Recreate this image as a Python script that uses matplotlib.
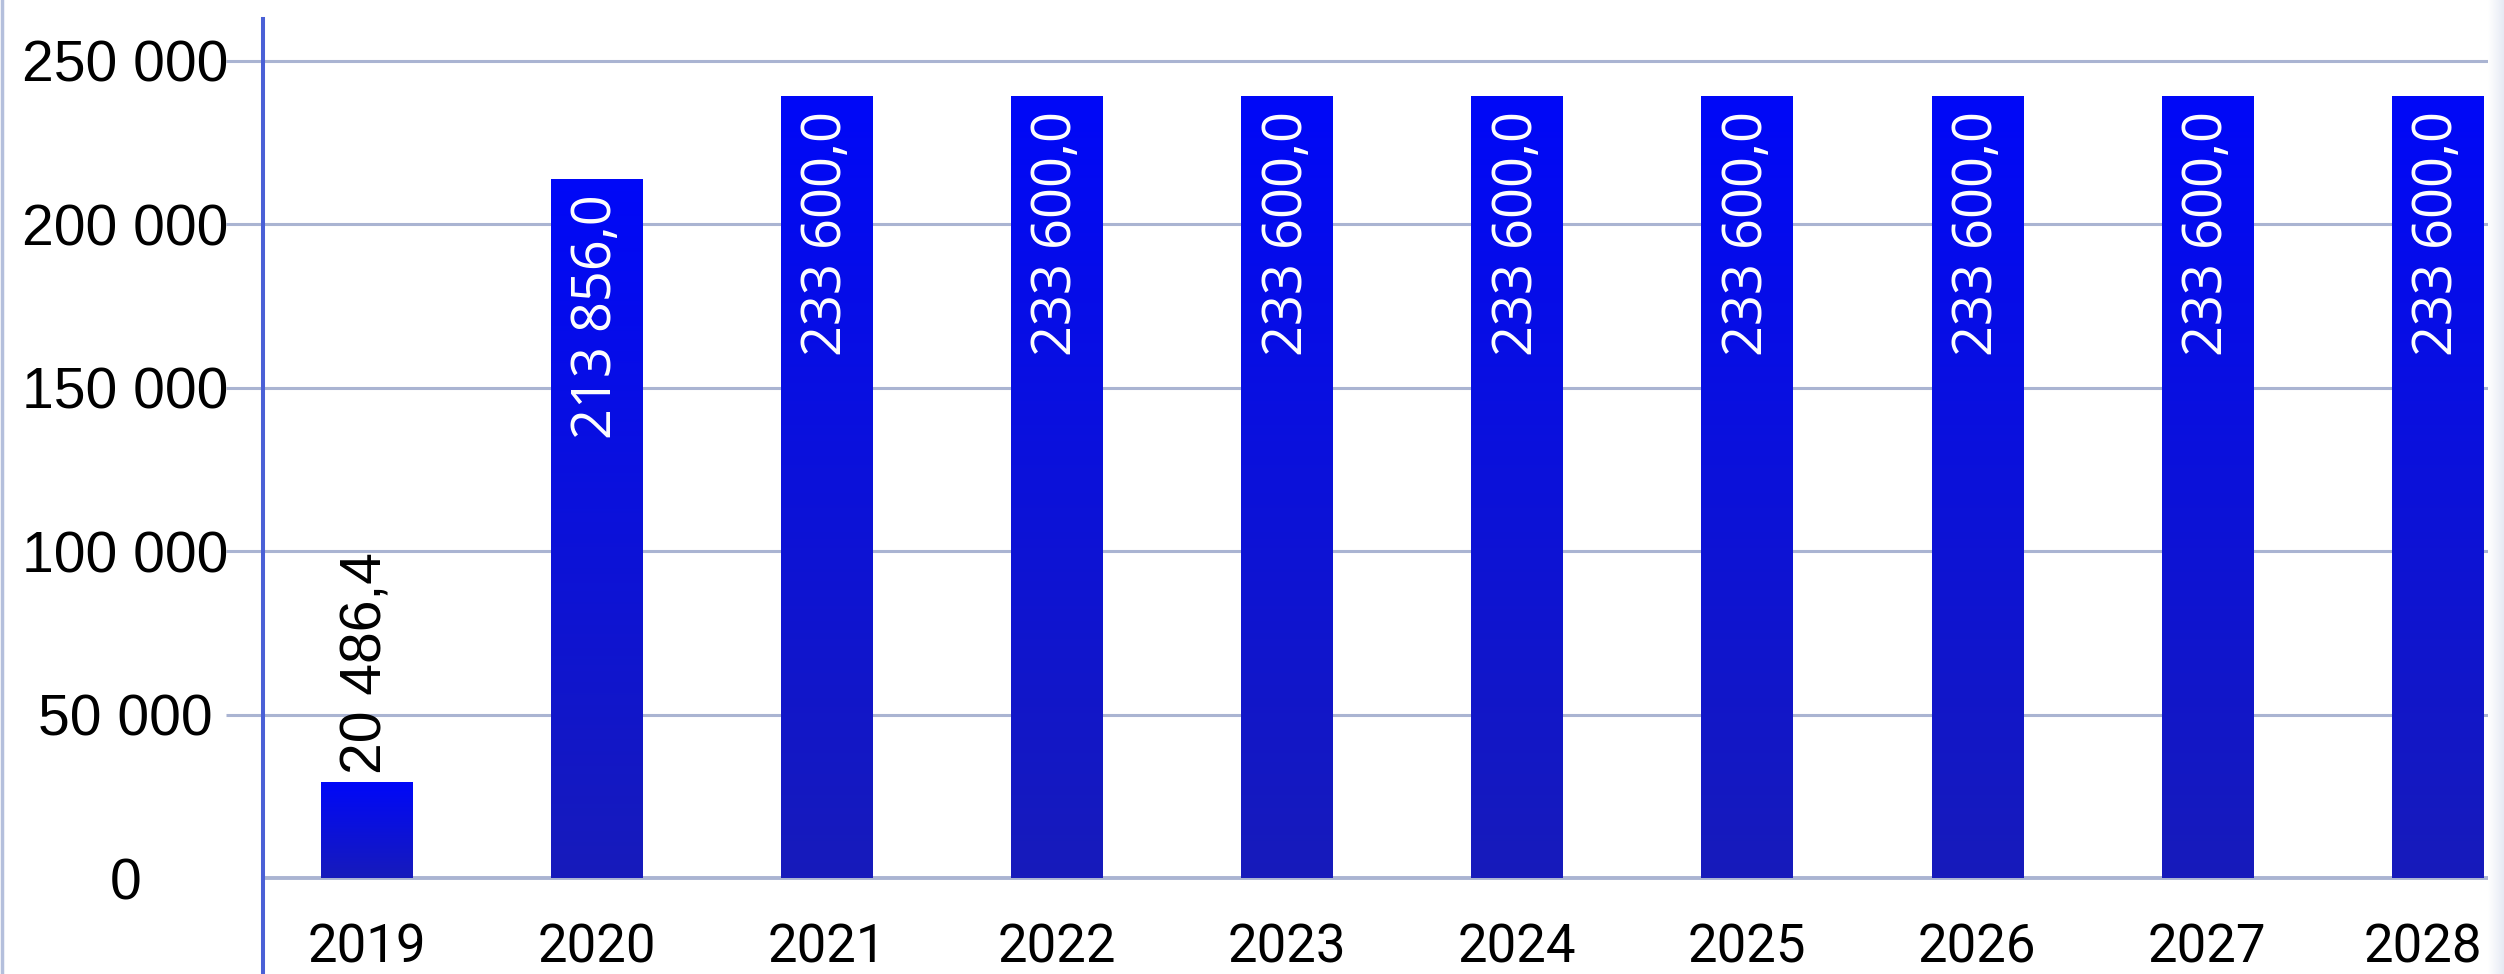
import matplotlib.pyplot as plt
import numpy as np
from matplotlib.colors import LinearSegmentedColormap
from matplotlib.lines import Line2D
from matplotlib.transforms import ScaledTranslation

years = ['2019', '2020', '2021', '2022', '2023', '2024', '2025', '2026', '2027', '2028']
# bar heights as drawn in the picture
bar_heights = [29300, 213900, 239400, 239400, 239400, 239400, 239400, 239400, 239400, 239400]
# values printed on the bars
label_values = [20486.4, 213856.0, 233600.0, 233600.0, 233600.0, 233600.0,
                233600.0, 233600.0, 233600.0, 233600.0]
y_ticks = [0, 50000, 100000, 150000, 200000, 250000]

grid_col = '#aab4d2'
axis_col = '#4a60d6'
bar_cmap = LinearSegmentedColormap.from_list('bars', ['#171bbb', '#0008f8'])


def fmt_num(v, dec):
    s = f"{v:,.{dec}f}"
    return s.replace(',', ' ').replace('.', ',')


W, H = 2504, 974
fig = plt.figure(figsize=(W / 100, H / 100), dpi=100)
ax_left, ax_bottom, ax_top = 263, 878, 19
ax = fig.add_axes([ax_left / W, (H - ax_bottom) / H, 1 - ax_left / W, (ax_bottom - ax_top) / H])

x = np.arange(len(years))
bars = ax.bar(x, bar_heights, width=0.396, color='#171bbb', zorder=3)

grad = np.linspace(0, 1, 256).reshape(-1, 1)
for b in bars:
    x0, w, h = b.get_x(), b.get_width(), b.get_height()
    im = ax.imshow(grad, extent=[x0, x0 + w, 0, h], origin='lower',
                   aspect='auto', cmap=bar_cmap, zorder=3)
    im.set_clip_path(b)

for b, v in zip(bars, label_values):
    cx = b.get_x() + b.get_width() / 2
    h = b.get_height()
    if h > 100000:
        ax.annotate(fmt_num(v, 1), (cx, h), xytext=(0, -11), textcoords='offset points',
                    rotation=90, ha='center', va='top', color='white',
                    fontsize=39, family='Open Sans', zorder=5)
    else:
        ax.annotate(fmt_num(v, 1), (cx, h), xytext=(0, 6), textcoords='offset points',
                    rotation=90, ha='center', va='bottom', color='black',
                    fontsize=41, family='Liberation Sans', zorder=5)

ax.set_xlim(-0.452, 9.291)
ax.set_ylim(0, 262850)

ax.set_yticks(y_ticks, labels=[fmt_num(t, 0) for t in y_ticks])
for lbl in ax.get_yticklabels():
    lbl.set_ha('center')
    lbl.set_family('Liberation Sans')
    lbl.set_fontsize(41)
ax.tick_params(axis='y', length=27, width=2.2, color=grid_col, pad=72)
ax.yaxis.get_major_ticks()[0].tick1line.set_visible(False)

ax.set_xticks(x, labels=years)
for lbl in ax.get_xticklabels():
    lbl.set_family('Roboto')
    lbl.set_fontsize(38)
ax.tick_params(axis='x', length=0, pad=32)
# last year label is nudged left so it stays inside the picture
last = ax.get_xticklabels()[-1]
last.set_transform(last.get_transform() + ScaledTranslation(-0.14, 0, fig.dpi_scale_trans))

ax.grid(axis='y', color=grid_col, lw=2.2, zorder=0)
ax.set_axisbelow(True)
ax.spines['top'].set_visible(False)
ax.spines['right'].set_visible(False)
ax.spines['bottom'].set_color(grid_col)
ax.spines['bottom'].set_linewidth(2.8)
ax.spines['left'].set_color(axis_col)
ax.spines['left'].set_linewidth(2.9)

# axis line runs on to the bottom edge
fig.add_artist(Line2D([ax_left / W] * 2, [0, (H - ax_bottom) / H], color=axis_col, lw=2.9))
# thin frame line at the left edge
fig.add_artist(Line2D([0.0006, 0.0006], [0, 1], color='#b4bfdc', lw=2.5))

# faint shade at the right edge
sh = fig.add_axes([(W - 16) / W, 0, 16 / W, 1])
sh.imshow(np.linspace(0, 1, 64).reshape(1, -1), aspect='auto',
          cmap=LinearSegmentedColormap.from_list('sh', ['#ffffff', '#e6eaf4']))
sh.axis('off')

fig.savefig('out.png', dpi=100)
